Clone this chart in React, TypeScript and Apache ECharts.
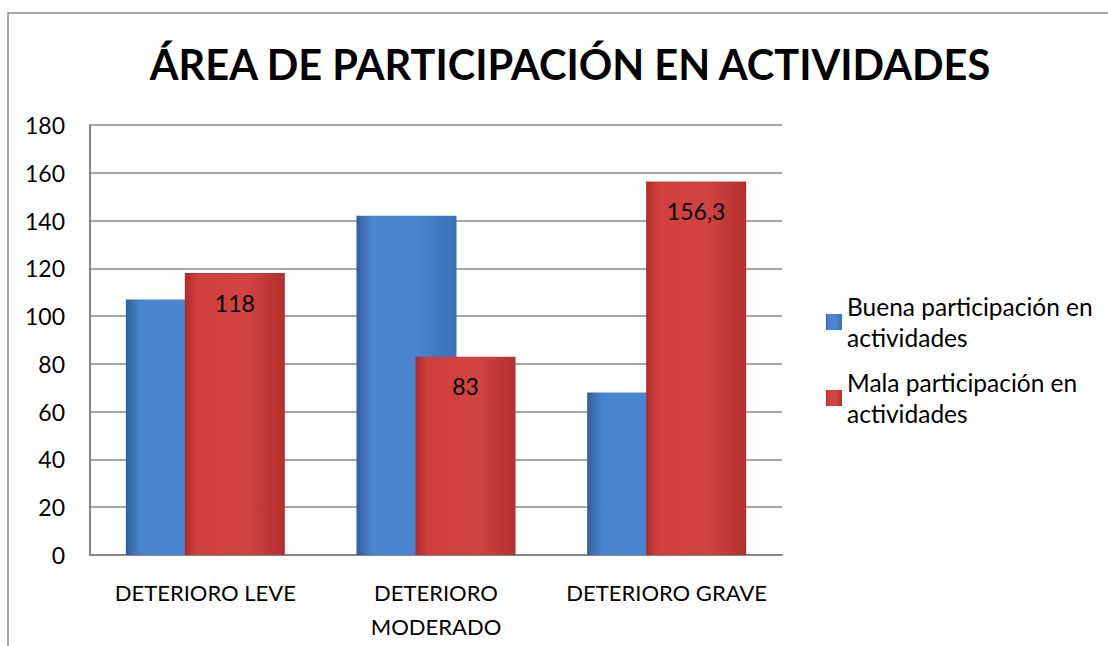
import React, { useEffect, useRef } from "react";
import * as echarts from "echarts";

const titleText = "ÁREA DE PARTICIPACIÓN EN ACTIVIDADES";
const categories = ["DETERIORO LEVE", "DETERIORO\nMODERADO", "DETERIORO GRAVE"];
const seriesNames = ["Buena participación en actividades", "Mala participación en actividades"];
const legendLabels = ["Buena participación en\nactividades", "Mala participación en\nactividades"];
const buenaValues = [107, 142, 68];
const malaValues = [118, 83, 156.3];
const yMin = 0;
const yMax = 180;
const yStep = 20;

const FONT = "Lato, 'Open Sans', sans-serif";

export default function App() {
  const ref = useRef<HTMLDivElement>(null);
  useEffect(() => {
    if (!ref.current) return;
    const chart = echarts.init(ref.current, undefined, { renderer: "svg" });
    const blueGrad = new echarts.graphic.LinearGradient(0, 0, 1, 0, [
      { offset: 0, color: "#2f5f9e" },
      { offset: 0.15, color: "#4a84cc" },
      { offset: 0.6, color: "#4a86d0" },
      { offset: 1, color: "#3a6fb3" },
    ]);
    const redGrad = new echarts.graphic.LinearGradient(0, 0, 1, 0, [
      { offset: 0, color: "#b02a28" },
      { offset: 0.12, color: "#cf3f3c" },
      { offset: 0.6, color: "#d24441" },
      { offset: 1, color: "#b3302e" },
    ]);
    const legendText = (name: string) => legendLabels[seriesNames.indexOf(name)];
    const legendCommon = {
      orient: "vertical" as const,
      left: 826,
      padding: 0,
      icon: "rect",
      itemWidth: 16,
      itemHeight: 16,
      itemGap: 10,
      formatter: legendText,
      textStyle: {
        fontFamily: FONT,
        fontSize: 24.5,
        color: "#000",
        lineHeight: 31,
        padding: [31, 0, 0, 0],
      },
    };
    chart.setOption({
      animation: false,
      backgroundColor: "#ffffff",
      graphic: [
        {
          type: "rect",
          shape: { x: 8, y: 13, width: 1300, height: 900 },
          style: { fill: "none", stroke: "#8c8c8c", lineWidth: 1.5 },
          silent: true,
        },
        {
          type: "text",
          x: 570,
          y: 64,
          style: {
            text: titleText,
            fontFamily: FONT,
            fontWeight: "bold",
            fontSize: 41.5,
            fill: "#000",
            align: "center",
            verticalAlign: "middle",
          },
        },
      ],
      legend: [
        { ...legendCommon, data: [seriesNames[0]], top: 322 - 46.5 },
        { ...legendCommon, data: [seriesNames[1]], top: 398 - 46.5 },
      ],
      grid: { left: 90, right: 326, top: 125, bottom: 91 },
      xAxis: {
        type: "category",
        data: categories,
        axisLine: { show: true, lineStyle: { color: "#868686", width: 2 } },
        axisTick: { show: false },
        axisLabel: {
          fontFamily: FONT,
          fontSize: 22,
          color: "#000",
          lineHeight: 34,
          margin: 20,
          interval: 0,
        },
      },
      yAxis: {
        type: "value",
        min: yMin,
        max: yMax,
        interval: yStep,
        axisLine: { show: true, lineStyle: { color: "#868686", width: 2 } },
        axisTick: { show: false },
        splitLine: { show: true, lineStyle: { color: "#8a8a8a", width: 1.5 } },
        axisLabel: {
          fontFamily: FONT,
          fontSize: 23,
          color: "#000",
          margin: 25,
        },
      },
      series: [
        {
          name: seriesNames[0],
          type: "bar",
          data: buenaValues,
          barWidth: 100,
          barGap: "-41%",
          itemStyle: { color: blueGrad },
        },
        {
          name: seriesNames[1],
          type: "bar",
          data: malaValues,
          barWidth: 100,
          barGap: "-41%",
          itemStyle: { color: redGrad },
          label: {
            show: true,
            position: "insideTop",
            distance: 18,
            fontFamily: FONT,
            fontSize: 23,
            color: "#000",
            formatter: (p: any) => String(p.value).replace(".", ","),
          },
        },
      ],
    });
    return () => chart.dispose();
  }, []);
  return (
    <div
      ref={ref}
      style={{ position: "absolute", left: 0, top: 0, width: 1108, height: 646 }}
    />
  );
}
